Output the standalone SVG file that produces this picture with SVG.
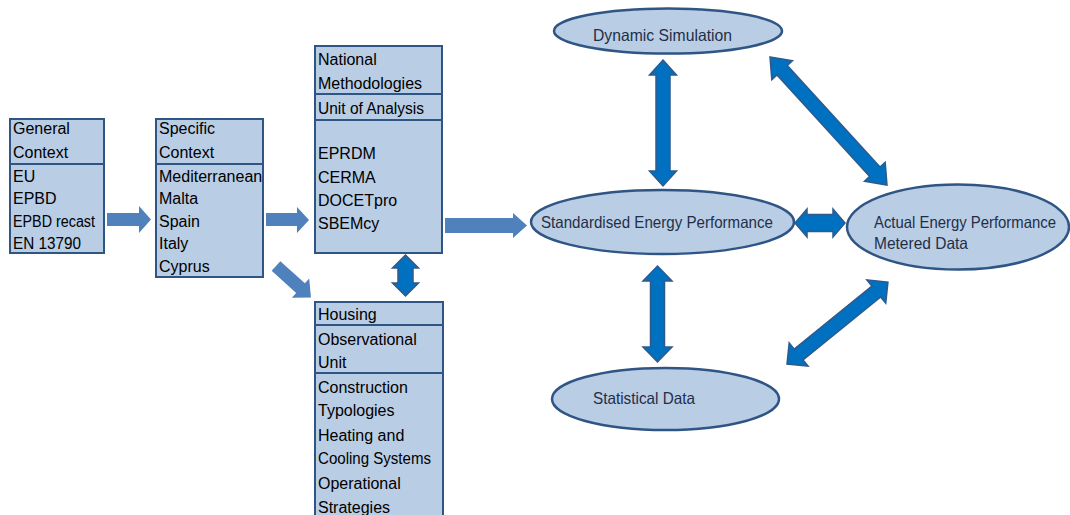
<svg xmlns="http://www.w3.org/2000/svg" width="1070" height="515" viewBox="0 0 1070 515">
<style>
.box{fill:#b9cde5;stroke:#2f5585;stroke-width:2}
.div{stroke:#2f5585;stroke-width:2}
.bt{font-family:"Liberation Sans",Arial,sans-serif;font-size:16px;fill:#000}
.ell{fill:#b9cde5;stroke:#2f5585;stroke-width:2.5}
.et{font-family:"Liberation Sans",Arial,sans-serif;font-size:16.5px;fill:#1f2f48}
.la{fill:#4f81bd}
.da{fill:#0070c0;stroke:#2f5a8c;stroke-width:1.5;stroke-linejoin:miter}
</style>
<rect width="1070" height="515" fill="#fff"/>
<g id="connectors">
<polygon class="la" points="107,213 139,213 139,206 151,219.5 139,233 139,226 107,226"/>
<polygon class="la" points="266,213 297,213 297,207 309,220 297,233 297,226 266,226"/>
<polygon class="la" points="445,218 513,218 513,213 527,225.5 513,238 513,233 445,233"/>
<polygon class="la" transform="translate(276,266) rotate(42)" points="0,-6.5 33,-6.5 33,-13 47,0 33,13 33,6.5 0,6.5"/>
<polygon class="da" transform="translate(405.5,255) rotate(90)" points="0,0 13,-13 13,-7.5 28,-7.5 28,-13 41,0 28,13 28,7.5 13,7.5 13,13"/>
<polygon class="da" transform="translate(663,60) rotate(90)" points="0,0 15,-13.5 15,-7 111,-7 111,-13.5 126,0 111,13.5 111,7 15,7 15,13.5"/>
<polygon class="da" transform="translate(657.5,266) rotate(90)" points="0,0 15,-14.5 15,-7 81,-7 81,-14.5 96,0 81,14.5 81,7 15,7 15,14.5"/>
<polygon class="da" transform="translate(795,223)" points="0,0 12,-14 12,-8.5 38,-8.5 38,-14 50,0 38,14 38,8.5 12,8.5 12,14"/>
<polygon class="da" transform="translate(770,57) rotate(47.57)" points="0,0 18,-14 18,-7 155.4,-7 155.4,-14 173.4,0 155.4,14 155.4,7 18,7 18,14"/>
<polygon class="da" transform="translate(787,364) rotate(-39.07)" points="0,0 15,-15 15,-7 115,-7 115,-15 130,0 115,15 115,7 15,7 15,15"/>
</g>
<g id="general-context">
<rect class="box" x="10" y="119" width="94" height="134"/>
<line class="div" x1="10" y1="164" x2="104" y2="164"/>
<text class="bt" x="13" y="134">General</text>
<text class="bt" x="13" y="158">Context</text>
<text class="bt" x="13" y="182">EU</text>
<text class="bt" x="13" y="204">EPBD</text>
<text class="bt" x="13" y="227" textLength="82" lengthAdjust="spacingAndGlyphs">EPBD recast</text>
<text class="bt" x="13" y="249" textLength="68" lengthAdjust="spacingAndGlyphs">EN 13790</text>
</g>
<g id="specific-context">
<rect class="box" x="156" y="119" width="107" height="158"/>
<line class="div" x1="156" y1="164" x2="263" y2="164"/>
<text class="bt" x="159" y="134">Specific</text>
<text class="bt" x="159" y="158">Context</text>
<text class="bt" x="159" y="182">Mediterranean</text>
<text class="bt" x="159" y="204">Malta</text>
<text class="bt" x="159" y="227">Spain</text>
<text class="bt" x="159" y="249">Italy</text>
<text class="bt" x="159" y="272">Cyprus</text>
</g>
<g id="national-methodologies">
<rect class="box" x="315" y="46" width="127" height="207"/>
<line class="div" x1="315" y1="94" x2="442" y2="94"/>
<line class="div" x1="315" y1="120" x2="442" y2="120"/>
<text class="bt" x="318" y="65">National</text>
<text class="bt" x="318" y="89">Methodologies</text>
<text class="bt" x="318" y="114" textLength="106" lengthAdjust="spacingAndGlyphs">Unit of Analysis</text>
<text class="bt" x="318" y="159">EPRDM</text>
<text class="bt" x="318" y="183">CERMA</text>
<text class="bt" x="318" y="206">DOCETpro</text>
<text class="bt" x="318" y="229">SBEMcy</text>
</g>
<g id="housing">
<rect class="box" x="315" y="302" width="128" height="230"/>
<line class="div" x1="315" y1="325" x2="443" y2="325"/>
<line class="div" x1="315" y1="373" x2="443" y2="373"/>
<text class="bt" x="318" y="320">Housing</text>
<text class="bt" x="318" y="345">Observational</text>
<text class="bt" x="318" y="368">Unit</text>
<text class="bt" x="318" y="393">Construction</text>
<text class="bt" x="318" y="416">Typologies</text>
<text class="bt" x="318" y="441">Heating and</text>
<text class="bt" x="318" y="464" textLength="113" lengthAdjust="spacingAndGlyphs">Cooling Systems</text>
<text class="bt" x="318" y="489">Operational</text>
<text class="bt" x="318" y="513">Strategies</text>
</g>
<g id="dynamic-simulation">
<ellipse class="ell" cx="668" cy="31" rx="114" ry="22.5"/>
<text class="et" x="593" y="41" textLength="139" lengthAdjust="spacingAndGlyphs">Dynamic Simulation</text>
</g>
<g id="standardised-energy-performance">
<ellipse class="ell" cx="662.5" cy="222" rx="131.5" ry="32"/>
<text class="et" x="541" y="228" textLength="232" lengthAdjust="spacingAndGlyphs">Standardised Energy Performance</text>
</g>
<g id="actual-energy-performance">
<ellipse class="ell" cx="958" cy="227" rx="111" ry="42.5"/>
<text class="et" x="874" y="228" textLength="182" lengthAdjust="spacingAndGlyphs">Actual Energy Performance</text>
<text class="et" x="874" y="249" textLength="94" lengthAdjust="spacingAndGlyphs">Metered Data</text>
</g>
<g id="statistical-data">
<ellipse class="ell" cx="665.5" cy="399" rx="113.5" ry="31"/>
<text class="et" x="593" y="404" textLength="102" lengthAdjust="spacingAndGlyphs">Statistical Data</text>
</g>
</svg>
